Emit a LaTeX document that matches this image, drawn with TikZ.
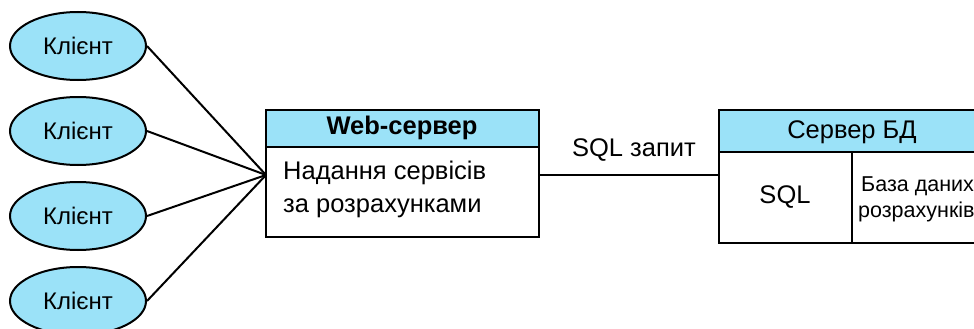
\documentclass[tikz,border=0pt]{standalone}
\usepackage{fontspec}
\setmainfont{Liberation Sans}
\usetikzlibrary{shapes.geometric}
\definecolor{hdr}{HTML}{9BE2F8}
\tikzset{
  client/.style={ellipse, draw, line width=2pt, fill=hdr, minimum width=136pt, minimum height=68pt, inner sep=0pt, font=\fontsize{24}{28}\selectfont},
  conn/.style={line width=2pt},
  boxline/.style={draw, line width=2pt},
  txt/.style={inner sep=0pt, font=\fontsize{25.5}{30}\selectfont},
  smalltxt/.style={inner sep=0pt, font=\fontsize{21.5}{26}\selectfont, align=left, anchor=west}
}
\begin{document}
\begin{tikzpicture}[x=1pt,y=-1pt]
\useasboundingbox (0,0) rectangle (974,329);
\clip (0,0) rectangle (974,329);
% clients
\node[client] (c1) at (78,46) {Клієнт};
\node[client] (c2) at (78,131) {Клієнт};
\node[client] (c3) at (78,216) {Клієнт};
\node[client] (c4) at (78,301) {Клієнт};
% web server
\draw[boxline, fill=hdr] (266,110) rectangle (539,147);
\draw[boxline, fill=white] (266,147) rectangle (539,237);
\coordinate (wsW) at (266,175);
\coordinate (wsE) at (539,175);
\node[txt, font=\fontsize{25.5}{30}\selectfont\bfseries] (wsh) at (402,128) {Web-сервер};
\node[txt, anchor=west] (ws1) at (283,173) {Надання сервісів};
\node[txt, anchor=west] (ws2) at (283,208) {за розрахунками};
% db server
\draw[boxline, fill=hdr] (719,110) rectangle (990,152);
\draw[boxline, fill=white] (719,152) rectangle (990,243);
\draw[boxline] (852,152) -- (852,243);
\coordinate (dbW) at (719,175);
\node[txt] (dbh) at (852,132) {Сервер БД};
\node[txt] (sql) at (785,197) {SQL};
\node[smalltxt] (db1) at (861,186) {База даних};
\node[smalltxt] (db2) at (858,212) {розрахунків};
% connectors
\draw[conn] (c1.east) -- (wsW);
\draw[conn] (c2.east) -- (wsW);
\draw[conn] (c3.east) -- (wsW);
\draw[conn] (c4.east) -- (wsW);
\draw[conn] (wsE) -- node[above=13pt, xshift=5pt, txt] (lbl) {SQL запит} (dbW);
\end{tikzpicture}
\end{document}
